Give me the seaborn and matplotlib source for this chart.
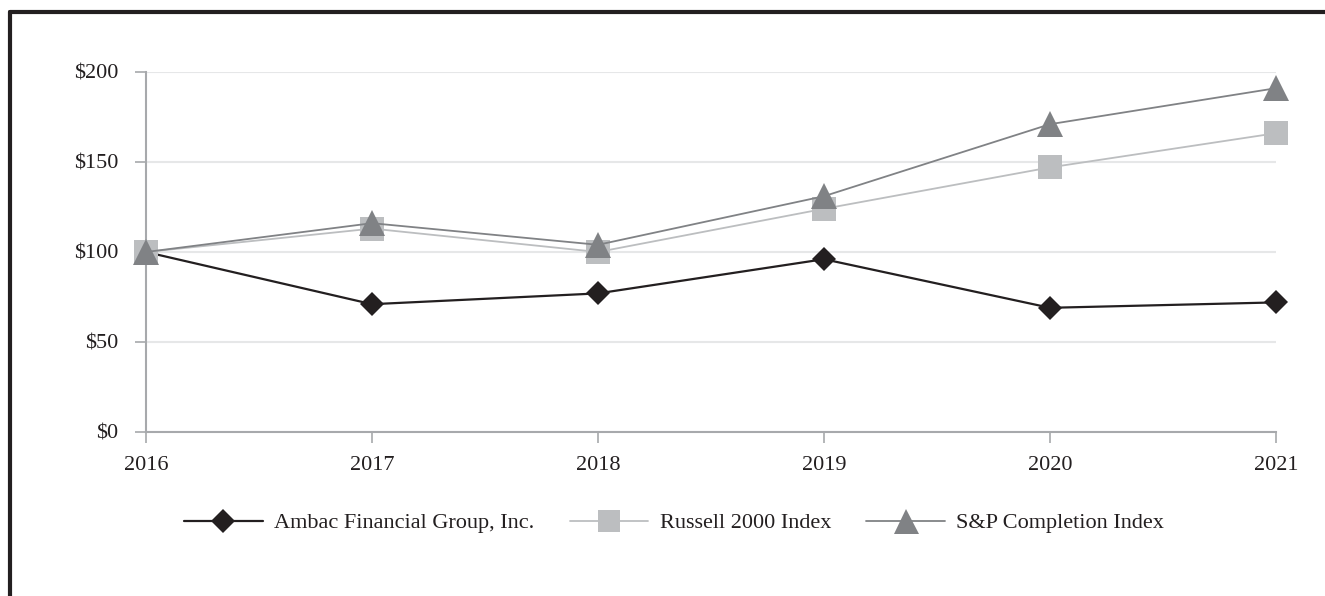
import matplotlib
matplotlib.use("Agg")
import matplotlib.pyplot as plt
from matplotlib.lines import Line2D
import seaborn as sns
import pandas as pd

years = [2016, 2017, 2018, 2019, 2020, 2021]
ambac = [100, 71, 77, 96, 69, 72]
russell = [100, 113, 100, 124, 147, 166]
sp_completion = [100, 116, 104, 131, 171, 191]
series_names = ["Ambac Financial Group, Inc.", "Russell 2000 Index", "S&P Completion Index"]
y_ticks = [0, 50, 100, 150, 200]
y_labels = ["$0", "$50", "$100", "$150", "$200"]

sns.set_theme(style="white")
plt.rcParams["font.family"] = ["Liberation Serif", "DejaVu Serif"]

df = pd.DataFrame({
    "year": years * 3,
    "value": ambac + russell + sp_completion,
    "series": [series_names[0]] * 6 + [series_names[1]] * 6 + [series_names[2]] * 6,
})

W, H = 1325, 596
fig = plt.figure(figsize=(W / 100, H / 100), dpi=100)
ax = fig.add_axes([146 / W, 1 - 432 / H, (1276 - 146) / W, (432 - 72) / H])

styles = {
    series_names[0]: dict(color="#231f20", marker="D", markersize=12.5, linewidth=1.6),
    series_names[1]: dict(color="#bcbec0", marker="s", markersize=17.5, linewidth=1.3),
    series_names[2]: dict(color="#808285", marker="^", markersize=19, linewidth=1.3),
}

for name in series_names:
    sub = df[df["series"] == name]
    st = styles[name]
    sns.lineplot(data=sub, x="year", y="value", ax=ax, color=st["color"],
                 marker=st["marker"], markersize=st["markersize"],
                 linewidth=st["linewidth"], markeredgewidth=0,
                 markeredgecolor=st["color"], label=name, clip_on=False,
                 zorder=3)

ax.set_xlim(2016, 2021)
ax.set_ylim(0, 200)
ax.set_xticks(years)
ax.set_xticklabels([str(y) for y in years])
ax.set_yticks(y_ticks)
ax.set_yticklabels(y_labels)
ax.set_xlabel("")
ax.set_ylabel("")

ax.grid(axis="y", color="#e6e7e8", linewidth=1.5)
ax.set_axisbelow(True)
for side in ["top", "right"]:
    ax.spines[side].set_visible(False)
for side in ["left", "bottom"]:
    ax.spines[side].set_color("#a7a9ac")
    ax.spines[side].set_linewidth(1.5)
    ax.spines[side].set_zorder(1)

ax.tick_params(axis="both", which="major", direction="out", length=8, width=1.2,
               color="#a7a9ac", labelsize=16, labelcolor="#231f20")
ax.tick_params(axis="y", pad=12, left=True)
ax.tick_params(axis="x", pad=9, bottom=True)
for lbl in ax.get_yticklabels():
    lbl.set_va("center_baseline")

legend_sizes = {series_names[0]: 12.5, series_names[1]: 16, series_names[2]: 18}
handles = [Line2D([], [], color=styles[n]["color"], marker=styles[n]["marker"],
                  markersize=legend_sizes[n],
                  linewidth=styles[n]["linewidth"], markeredgewidth=0) for n in series_names]
if ax.legend_:
    ax.legend_.remove()
fig.legend(handles, series_names, loc="center", ncol=3, frameon=False,
           bbox_to_anchor=(674 / W, 1 - 523 / H), fontsize=16, handlelength=3.55,
           handletextpad=0.5, columnspacing=1.6, labelcolor="#231f20")

# Frame border (top and left)
fig.add_artist(Line2D([10 / W, 1.0], [1 - 11.5 / H, 1 - 11.5 / H], color="#231f20",
                      linewidth=3, transform=fig.transFigure))
fig.add_artist(Line2D([10 / W, 10 / W], [1 - 11.5 / H, 0.0], color="#231f20",
                      linewidth=3, transform=fig.transFigure))

fig.savefig("out.png", dpi=100, facecolor="white")
